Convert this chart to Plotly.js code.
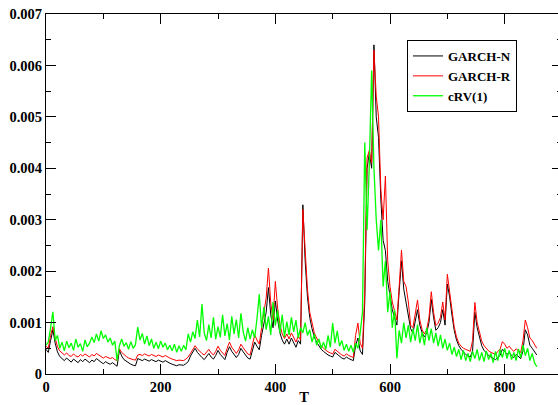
<!DOCTYPE html>
<html>
<head>
<meta charset="utf-8">
<script src="https://cdn.plot.ly/plotly-3.0.1.min.js"></script>
<style>
  html, body { margin: 0; padding: 0; overflow: hidden; background: #fff; }
  #chart { width: 562px; height: 405px; }
</style>
</head>
<body>
<div id="chart"></div>
<script>
// Values are in units of 1e-4; one value every 4 steps of T.
const UNIT = 1e-4;
const T_STEP = 4;

const garchN = [
  4.8,4.2,6.5,8.6,6.0,4.3,3.4,3.0,2.6,3.1,
  2.6,2.3,2.9,2.5,2.2,2.8,2.4,2.9,2.5,2.2,
  2.7,2.4,3.0,2.6,2.3,2.0,2.4,2.1,1.9,2.2,
  1.8,1.5,4.6,3.5,2.8,2.5,2.1,1.9,1.7,1.6,
  3.0,2.8,2.6,2.9,2.7,2.5,2.8,2.6,2.4,2.7,
  2.5,2.3,2.6,2.3,2.1,1.9,1.7,1.6,1.8,1.7,
  1.7,2.0,2.4,3.5,4.3,5.0,4.2,3.6,3.2,2.8,
  3.4,4.0,3.3,2.9,3.6,4.6,3.8,3.2,2.8,4.2,
  5.3,4.4,3.7,3.2,3.8,5.0,4.3,3.6,3.1,2.9,
  4.5,6.2,5.4,4.7,7.5,9.5,12.0,16.8,11.5,9.0,
  14.2,10.5,8.0,6.6,5.8,6.8,5.8,7.0,6.0,5.2,
  6.5,5.8,32.9,22.0,15.0,11.0,8.8,7.2,6.2,5.4,
  4.8,4.4,4.0,3.7,3.5,3.3,4.2,3.8,3.4,3.1,
  2.9,3.3,3.0,2.8,2.6,5.5,7.0,4.5,3.8,14.0,
  40.0,43.0,40.0,64.0,50.0,46.0,34.0,26.0,24.0,18.0,
  15.0,12.5,11.0,9.5,16.0,22.0,16.5,14.0,12.0,8.8,
  8.0,10.5,12.5,9.5,8.0,7.2,8.0,10.0,14.5,11.0,
  8.5,9.0,10.0,12.5,9.5,17.5,15.0,11.5,8.5,6.6,
  5.5,4.8,4.2,3.8,3.5,3.3,4.5,12.0,9.0,7.0,
  5.5,4.6,4.0,3.6,3.3,3.0,2.8,3.2,3.6,4.8,
  4.4,3.8,4.2,3.6,3.2,3.8,3.4,3.0,4.5,8.6,
  7.6,5.6,5.0,4.2,3.7
];

const garchR = [
  5.4,5.0,7.5,9.2,7.0,5.3,4.5,4.1,3.7,4.1,
  3.6,3.4,3.9,3.5,3.3,3.8,3.5,3.9,3.6,3.3,
  3.8,3.5,4.0,3.7,3.4,3.1,3.4,3.2,3.0,3.2,
  2.8,2.6,4.9,4.2,3.7,3.4,3.1,2.9,2.8,2.7,
  3.7,3.8,3.6,3.9,3.7,3.5,3.8,3.6,3.4,3.7,
  3.5,3.3,3.6,3.3,3.1,2.9,2.7,2.6,2.7,2.6,
  2.6,2.9,3.3,4.0,4.8,5.5,4.9,4.4,4.0,3.7,
  4.2,4.8,4.1,3.7,4.4,5.4,4.6,4.0,3.6,5.0,
  6.2,5.2,4.5,4.0,4.7,5.8,5.1,4.4,3.9,3.7,
  5.6,7.6,6.6,5.8,9.0,11.5,14.8,20.6,13.8,10.6,
  18.0,12.8,9.6,7.8,6.9,7.8,6.8,8.0,7.0,6.2,
  7.4,6.6,32.0,23.5,16.5,12.0,9.6,8.0,7.0,6.1,
  5.5,5.0,4.6,4.3,4.1,3.9,4.8,4.4,4.0,3.7,
  3.5,3.9,3.6,3.4,3.2,7.5,9.9,6.0,5.0,16.0,
  42.0,43.5,41.0,63.0,54.0,50.0,36.0,30.0,38.5,22.0,
  17.0,14.0,12.0,10.5,17.0,24.1,18.0,17.0,14.0,9.5,
  9.0,12.0,14.4,10.5,8.6,7.8,8.6,11.0,16.0,12.0,
  9.4,9.9,11.0,14.0,10.5,19.4,16.0,12.4,9.2,7.2,
  6.0,5.4,5.0,4.8,4.6,4.4,6.5,13.9,10.0,8.0,
  6.4,5.5,4.9,4.5,4.2,4.0,3.8,4.4,4.8,6.3,
  5.8,5.0,5.4,4.8,4.4,4.9,4.5,4.2,6.5,10.5,
  9.0,7.0,6.5,5.6,5.0
];

const crv1 = [
  5.6,6.2,9.0,12.1,6.5,7.5,5.0,6.2,4.5,6.4,
  5.1,6.0,4.6,6.8,5.2,5.9,4.4,6.6,5.3,6.0,
  7.2,6.1,7.8,6.4,8.4,6.9,7.6,6.2,7.0,5.6,
  6.4,2.6,5.5,6.8,5.4,6.1,4.8,6.3,5.0,5.7,
  9.1,6.6,7.9,5.8,7.4,5.5,6.8,5.0,6.2,4.9,
  6.4,5.2,6.0,4.7,5.6,4.5,5.8,4.2,5.5,4.4,
  5.6,4.7,7.8,6.2,8.2,6.9,10.5,7.2,13.6,8.0,
  6.5,9.6,7.0,11.0,6.8,9.2,7.1,11.5,7.4,9.8,
  6.6,11.2,7.8,10.6,7.0,11.8,8.2,6.4,9.0,6.8,
  8.6,7.0,10.8,15.5,9.0,13.0,8.6,11.2,7.6,14.0,
  9.4,12.4,8.0,11.5,7.2,10.2,7.6,11.0,8.2,10.5,
  7.0,9.0,8.0,10.0,7.5,8.6,6.2,7.8,5.6,6.8,
  5.0,6.2,4.8,7.5,5.2,9.9,6.0,8.4,5.4,6.5,
  4.6,5.8,4.4,5.6,4.2,6.0,5.0,8.0,12.0,45.0,
  28.0,41.0,59.0,40.0,30.0,24.0,30.0,17.0,22.0,12.0,
  16.0,9.0,12.5,3.0,8.5,6.0,10.0,7.0,9.5,6.2,
  8.8,6.5,9.6,6.0,8.2,5.6,9.0,6.5,8.8,6.0,
  8.0,5.4,7.6,5.0,6.8,4.6,6.0,3.8,5.2,3.4,
  4.8,2.8,4.6,2.6,4.0,2.4,4.4,3.0,4.8,2.6,
  4.2,2.4,4.5,2.8,4.0,2.2,4.4,2.6,4.8,3.2,
  5.0,3.0,4.6,2.8,4.2,2.6,4.9,3.2,5.6,3.6,
  5.0,2.6,4.0,2.2,1.4
];

const T = garchN.map((_, i) => i * T_STEP);
const toValue = arr => arr.map(v => v * UNIT);

const seriesNames = ['GARCH-N', 'GARCH-R', 'cRV(1)'];
const FONT = "'Liberation Serif', 'Times New Roman', serif";

const traces = [
  { x: T, y: toValue(garchN), name: seriesNames[0], type: 'scatter', mode: 'lines',
    line: { color: '#000000', width: 1 } },
  { x: T, y: toValue(garchR), name: seriesNames[1], type: 'scatter', mode: 'lines',
    line: { color: '#ff0000', width: 1 } },
  { x: T, y: toValue(crv1), name: seriesNames[2], type: 'scatter', mode: 'lines',
    line: { color: '#00ff00', width: 1.3 } }
];

const axisCommon = {
  showline: true, linecolor: '#000', linewidth: 1, mirror: 'allticks',
  ticks: 'inside', ticklen: 10, tickwidth: 1, tickcolor: '#000',
  showgrid: false, zeroline: false,
  tickfont: { family: FONT, size: 14.5, color: '#000', weight: 'bold' }
};

const layout = {
  width: 562, height: 405,
  margin: { l: 46, r: 0, t: 14, b: 31 },
  paper_bgcolor: '#fff', plot_bgcolor: '#fff',
  font: { family: FONT, color: '#000' },
  showlegend: true,
  xaxis: Object.assign({}, axisCommon, {
    range: [0, 900], dtick: 200, tick0: 0, fixedrange: true,
    minor: { dtick: 100, ticks: 'inside', ticklen: 5, tickcolor: '#000' },
    title: { text: '<b>T</b>', font: { family: FONT, size: 14.5, color: '#000' }, standoff: 2 }
  }),
  yaxis: Object.assign({}, axisCommon, {
    range: [0, 0.007], dtick: 0.001, tick0: 0, fixedrange: true,
    minor: { dtick: 0.0005, ticks: 'inside', ticklen: 5, tickcolor: '#000' }
  }),
  legend: {
    x: (407 - 46) / 516, y: (374 - 40) / 360, xanchor: 'left', yanchor: 'top',
    bgcolor: '#fff', bordercolor: '#000', borderwidth: 1,
    font: { family: FONT, size: 13, color: '#000', weight: 'bold' },
    tracegroupgap: 0
  }
};

Plotly.newPlot('chart', traces, layout, { displayModeBar: false, staticPlot: true });
</script>
</body>
</html>
